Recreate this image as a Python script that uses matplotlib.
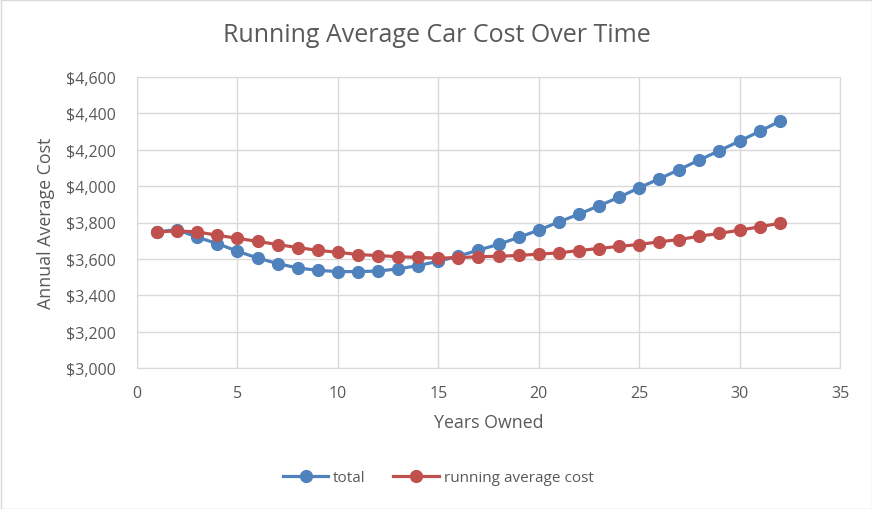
import matplotlib
matplotlib.use("Agg")
import matplotlib.pyplot as plt
from matplotlib.ticker import FuncFormatter, MultipleLocator

years = list(range(1, 33))
total = [3748, 3761, 3719, 3684, 3642, 3605, 3574, 3550, 3537, 3530,
         3530, 3533, 3545, 3563, 3587, 3615, 3648, 3680, 3718, 3758,
         3803, 3846, 3892, 3939, 3991, 4040, 4091, 4144, 4195, 4248,
         4301, 4357]
running_avg = [3748, 3754, 3748, 3730, 3713, 3696, 3679, 3662, 3647, 3636,
               3624, 3618, 3612, 3608, 3604, 3607, 3612, 3614, 3619, 3626,
               3633, 3646, 3657, 3669, 3679, 3694, 3706, 3725, 3740, 3758,
               3776, 3796]

plt.rcParams['font.family'] = ['Open Sans', 'DejaVu Sans']
txt = '#595959'
grid = '#D9D9D9'

fig = plt.figure(figsize=(8.72, 5.10), dpi=100)
ax = fig.add_axes([137/872, 1 - 369/510, (840-137)/872, (369-78)/510])

ax.plot(years, total, color='#4F81BD', lw=2.3, marker='o', ms=8.5,
        label='total', zorder=3)
ax.plot(years, running_avg, color='#C0504D', lw=2.3, marker='o', ms=8.5,
        label='running average cost', zorder=4)

ax.set_xlim(0, 35)
ax.set_ylim(3000, 4600)
ax.xaxis.set_major_locator(MultipleLocator(5))
ax.yaxis.set_major_locator(MultipleLocator(200))
ax.yaxis.set_major_formatter(FuncFormatter(lambda v, p: f"${v:,.0f}"))
ax.grid(True, color=grid, lw=1)
ax.set_axisbelow(True)
for s in ax.spines.values():
    s.set_color(grid)
ax.tick_params(length=0, colors=txt, labelsize=11.5)
ax.tick_params(axis='x', pad=12)
ax.tick_params(axis='y', pad=15)

ax.set_xlabel('Years Owned', color=txt, fontsize=12.8, labelpad=9)
ax.set_ylabel('Annual Average Cost', color=txt, fontsize=12.8, labelpad=8)
fig.text(437/872, 1 - 36/510, 'Running Average Car Cost Over Time', color=txt,
         fontsize=18, ha='center', va='center')

leg = fig.legend(loc='center', bbox_to_anchor=(438/872, 1 - 479/510), ncol=2,
                 frameon=False, fontsize=11, handlelength=3, columnspacing=1.8,
                 handletextpad=0.3)
for t in leg.get_texts():
    t.set_color(txt)

border = plt.Rectangle((0.5/872, 0.5/510), 1 - 1/872, 1 - 1/510, transform=fig.transFigure,
                       fill=False, edgecolor='#D9D9D9', lw=1)
fig.patches.append(border)

fig.savefig('out.png', dpi=100)
